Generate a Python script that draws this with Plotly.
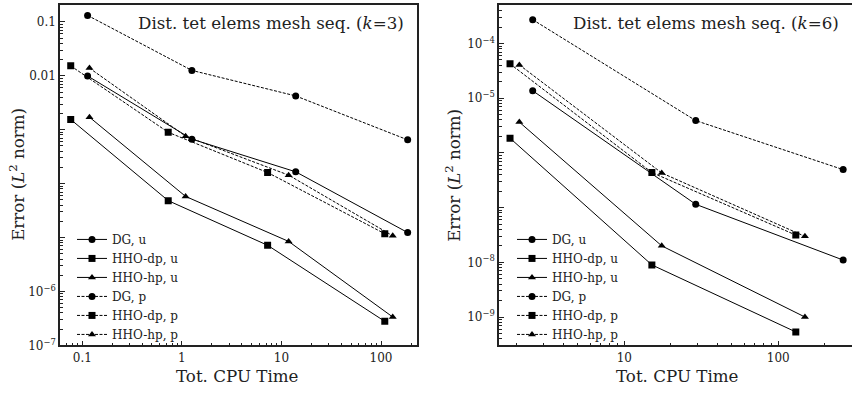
import plotly.graph_objects as go

W, H = 852, 394

# ---------------- data: left panel (k=3) ----------------
k3_dg_x = [0.113, 1.26, 13.9, 185]
k3_dg_u = [9.95e-3, 6.7e-4, 1.66e-4, 1.24e-5]
k3_dg_p = [0.132, 0.0126, 4.24e-3, 6.5e-4]
k3_dp_x = [0.0765, 0.729, 7.26, 109]
k3_dp_u = [1.55e-3, 4.84e-5, 7.2e-6, 2.8e-7]
k3_dp_p = [0.0153, 8.97e-4, 1.61e-4, 1.18e-5]
k3_hp_x = [0.118, 1.09, 11.8, 131]
k3_hp_u = [1.71e-3, 5.8e-5, 8.5e-6, 3.37e-7]
k3_hp_p = [0.0139, 7.6e-4, 1.44e-4, 1.08e-5]

# ---------------- data: right panel (k=6) ----------------
k6_dg_x = [2.54, 29.1, 264]
k6_dg_u = [1.37e-5, 1.15e-7, 1.1e-8]
k6_dg_p = [2.73e-4, 3.9e-6, 4.95e-7]
k6_dp_x = [1.81, 15.1, 130]
k6_dp_u = [1.86e-6, 8.97e-9, 5.33e-10]
k6_dp_p = [4.25e-5, 4.38e-7, 3.15e-8]
k6_hp_x = [2.08, 17.5, 149]
k6_hp_u = [3.66e-6, 2.0e-8, 1.0e-9]
k6_hp_p = [4.07e-5, 4.3e-7, 2.98e-8]

labels = ["DG, u", "HHO-dp, u", "HHO-hp, u", "DG, p", "HHO-dp, p", "HHO-hp, p"]

left_xtick_vals = [0.1, 1, 10, 100]
left_xtick_text = ["0.1", "1", "10", "100"]
left_ytick_vals = [1e-1, 1e-2, 1e-3, 1e-4, 1e-5, 1e-6, 1e-7]
left_ytick_text = ["0.1", "0.01", "", "", "", "10<sup>−6</sup>", "10<sup>−7</sup>"]
right_xtick_vals = [10, 100]
right_xtick_text = ["10", "100"]
right_ytick_vals = [1e-4, 1e-5, 1e-6, 1e-7, 1e-8, 1e-9]
right_ytick_text = ["10<sup>−4</sup>", "10<sup>−5</sup>", "", "", "10<sup>−8</sup>", "10<sup>−9</sup>"]

FONT = "DejaVu Serif"
SOLID = "solid"
DASH = "3px,1.5px"

fig = go.Figure()

def add_series(x, y, name, symbol, dash, xa, ya, legend):
    fig.add_trace(go.Scatter(
        x=x, y=y, name=name, mode="lines+markers",
        line=dict(color="black", width=1, dash=dash),
        marker=dict(symbol=symbol, size=7, color="black"),
        xaxis=xa, yaxis=ya, legend=legend, showlegend=True))

left_sets = [
    (k3_dg_x, k3_dg_u, "circle", SOLID), (k3_dp_x, k3_dp_u, "square", SOLID),
    (k3_hp_x, k3_hp_u, "triangle-up", SOLID), (k3_dg_x, k3_dg_p, "circle", DASH),
    (k3_dp_x, k3_dp_p, "square", DASH), (k3_hp_x, k3_hp_p, "triangle-up", DASH)]
right_sets = [
    (k6_dg_x, k6_dg_u, "circle", SOLID), (k6_dp_x, k6_dp_u, "square", SOLID),
    (k6_hp_x, k6_hp_u, "triangle-up", SOLID), (k6_dg_x, k6_dg_p, "circle", DASH),
    (k6_dp_x, k6_dp_p, "square", DASH), (k6_hp_x, k6_hp_p, "triangle-up", DASH)]

for (x, y, s, d), lab in zip(left_sets, labels):
    add_series(x, y, lab, s, d, "x", "y", "legend")
for (x, y, s, d), lab in zip(right_sets, labels):
    add_series(x, y, lab, s, d, "x2", "y2", "legend2")

def minor_vals(lo, hi):
    out = []
    for e in range(lo, hi + 1):
        for m in range(2, 10):
            out.append(m * 10.0 ** e)
    return out

def px_x(p):
    return p / W

def px_y(p):
    return 1 - p / H

axis_common = dict(type="log", showgrid=False, zeroline=False, showline=True,
                   linecolor="#222", linewidth=1.5, ticks="inside", ticklen=5,
                   tickwidth=1, tickcolor="#222",
                   tickfont=dict(family=FONT, size=12, color="#222"))

legend_common = dict(xanchor="left", yanchor="top", bgcolor="rgba(0,0,0,0)",
                     font=dict(family=FONT, size=12, color="#222"),
                     tracegroupgap=0, itemwidth=30)

fig.update_layout(
    width=W, height=H, margin=dict(l=0, r=0, t=0, b=0),
    paper_bgcolor="white", plot_bgcolor="white",
    font=dict(family=FONT, color="#222"),
    xaxis=dict(domain=[px_x(60), px_x(416.7)], range=[-1.224, 2.358], anchor="y",
               tickvals=left_xtick_vals, ticktext=left_xtick_text, mirror=True,
               minor=dict(ticks="inside", ticklen=3, tickcolor="#222",
                          tickvals=minor_vals(-2, 2)), **axis_common),
    yaxis=dict(domain=[px_y(351.7), px_y(5)], range=[-7, -0.685], anchor="x",
               tickvals=left_ytick_vals, ticktext=left_ytick_text, mirror=True,
               minor=dict(ticks="inside", ticklen=3, tickcolor="#222",
                          tickvals=minor_vals(-8, -1)), **axis_common),
    xaxis2=dict(domain=[px_x(499), 1.0], range=[0.186, 2.479], anchor="y2",
                tickvals=right_xtick_vals, ticktext=right_xtick_text, mirror=True,
                minor=dict(ticks="inside", ticklen=3, tickcolor="#222",
                           tickvals=minor_vals(0, 2)), **axis_common),
    yaxis2=dict(domain=[px_y(351.7), px_y(5)], range=[-9.52, -3.294], anchor="x2",
                tickvals=right_ytick_vals, ticktext=right_ytick_text, mirror=False,
                minor=dict(ticks="inside", ticklen=3, tickcolor="#222",
                           tickvals=minor_vals(-10, -4)), **axis_common),
    legend=dict(x=px_x(72), y=px_y(229), **legend_common),
    legend2=dict(x=px_x(512), y=px_y(229), **legend_common),
)

ann_font = dict(family=FONT, size=16.7, color="#222")
annotations = [
    dict(text="Dist. tet elems mesh seq. (<i>k</i>=3)", x=px_x(406), y=px_y(23),
         xanchor="right", yanchor="middle"),
    dict(text="Dist. tet elems mesh seq. (<i>k</i>=6)", x=px_x(841), y=px_y(23),
         xanchor="right", yanchor="middle"),
    dict(text="Tot. CPU Time", x=px_x(238), y=px_y(383), xanchor="center", yanchor="middle"),
    dict(text="Tot. CPU Time", x=px_x(677), y=px_y(383), xanchor="center", yanchor="middle"),
    dict(text="Error (<i>L</i><sup>2</sup> norm)", x=px_x(17), y=px_y(178),
         xanchor="center", yanchor="middle", textangle=-90),
    dict(text="Error (<i>L</i><sup>2</sup> norm)", x=px_x(453), y=px_y(178),
         xanchor="center", yanchor="middle", textangle=-90),
]
for a in annotations:
    fig.add_annotation(xref="paper", yref="paper", showarrow=False, font=ann_font, **a)

fig.write_html("out.html", config={"displayModeBar": False},
               post_script="document.body.style.margin='0px';")
